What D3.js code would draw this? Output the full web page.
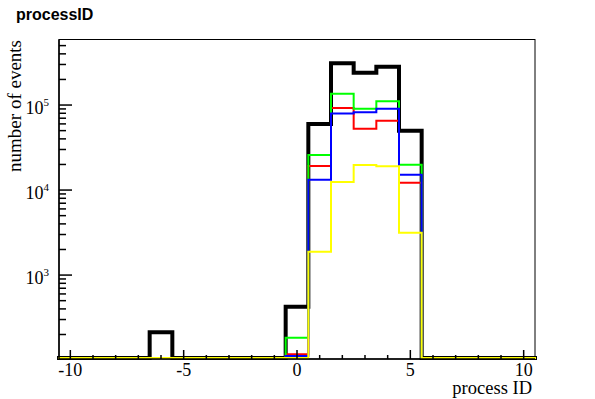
<!DOCTYPE html>
<html>
<head>
<meta charset="utf-8">
<script src="https://cdn.jsdelivr.net/npm/d3@7"></script>
<style>
  body { margin: 0; background: #fff; }
  svg { display: block; }
</style>
</head>
<body>
<div id="chart"></div>
<script>
// process ID bins (centered on integers, width 1)
var bins = d3.range(-10, 11);

// counts per bin, only non-zero bins listed
var blackCounts  = {"-6": 213, 0: 424, 1: 59700, 2: 310000, 3: 240000, 4: 282000, 5: 50000};
var redCounts    = {0: 117, 1: 19200, 2: 92000, 3: 52700, 4: 65300, 5: 12200};
var greenCounts  = {0: 183, 1: 25800, 2: 136000, 3: 90400, 4: 111000, 5: 19900};
var blueCounts   = {0: 112, 1: 13200, 2: 79700, 3: 82000, 4: 90400, 5: 15100};
var yellowCounts = {1: 1880, 2: 12400, 3: 19700, 4: 19100, 5: 3150};

var xTicks = [-10, -5, 0, 5, 10];
var yTicks = [1e3, 1e4, 1e5];

var svgWidth = 595;
var svgHeight = 399;

var frame = { left: 59, right: 535, top: 39.5, bottom: 359 };

var svg = d3.select("#chart")
  .append("svg")
  .attr("width", svgWidth)
  .attr("height", svgHeight);

var x = d3.scaleLinear()
  .domain([-10.5, 10.5])
  .range([frame.left, frame.right]);

var y = d3.scaleLog()
  .domain([103, 5.9e5])
  .range([frame.bottom, frame.top]);

// histogram outline as a step path, empty bins sit on the bottom
function histPath(counts) {
  var path = d3.path();
  var yOf = function(b) {
    var v = counts[b] || 0;
    return v > y.domain()[0] ? y(v) : frame.bottom - 1;
  };
  path.moveTo(x(-10.5), yOf(-10));
  bins.forEach(function(b, i) {
    path.lineTo(x(b + 0.5), yOf(b));
    if (i < bins.length - 1) path.lineTo(x(b + 0.5), yOf(bins[i + 1]));
  });
  return path.toString();
}

var series = [
  { counts: blackCounts,  color: "#000000", width: 4 },
  { counts: redCounts,    color: "#ff0000", width: 2 },
  { counts: greenCounts,  color: "#00ff00", width: 2 },
  { counts: blueCounts,   color: "#0000ff", width: 2 },
  { counts: yellowCounts, color: "#ffff00", width: 2 }
];

// frame
svg.append("rect")
  .attr("x", frame.left)
  .attr("y", frame.top)
  .attr("width", frame.right - frame.left)
  .attr("height", frame.bottom - frame.top)
  .attr("fill", "none")
  .attr("stroke", "#000")
  .attr("stroke-width", 1);

svg.append("g").selectAll("path")
  .data(series)
  .enter()
  .append("path")
  .attr("d", d => histPath(d.counts))
  .attr("fill", "none")
  .attr("stroke", d => d.color)
  .attr("stroke-width", d => d.width)
  .attr("stroke-linejoin", "miter")
  .attr("stroke-linecap", "square");

// x axis: ticks point up into the frame
var xAxisG = svg.append("g")
  .attr("transform", `translate(0, ${frame.bottom})`);

xAxisG.append("line")
  .attr("x1", frame.left).attr("x2", frame.right)
  .attr("stroke", "#000").attr("stroke-width", 1.5);

xAxisG.selectAll(".minor")
  .data(bins.filter(b => xTicks.indexOf(b) < 0))
  .enter()
  .append("line")
  .attr("x1", d => x(d)).attr("x2", d => x(d))
  .attr("y1", 0).attr("y2", -4)
  .attr("stroke", "#000").attr("stroke-width", 1.5);

xAxisG.selectAll(".major")
  .data(xTicks)
  .enter()
  .append("line")
  .attr("x1", d => x(d)).attr("x2", d => x(d))
  .attr("y1", 0).attr("y2", -9)
  .attr("stroke", "#000").attr("stroke-width", 1.5);

xAxisG.selectAll("text")
  .data(xTicks)
  .enter()
  .append("text")
  .attr("x", d => x(d))
  .attr("y", 17)
  .attr("text-anchor", "middle")
  .attr("font-family", "Liberation Serif, Times New Roman, serif")
  .attr("font-size", 18)
  .text(d => d);

svg.append("text")
  .attr("x", 532)
  .attr("y", 394)
  .attr("text-anchor", "end")
  .attr("font-family", "Liberation Serif, Times New Roman, serif")
  .attr("font-size", 18.5)
  .text("process ID");

// y axis: log ticks point right into the frame
var yAxisG = svg.append("g")
  .attr("transform", `translate(${frame.left}, 0)`);

yAxisG.append("line")
  .attr("y1", frame.top).attr("y2", frame.bottom)
  .attr("stroke", "#000").attr("stroke-width", 1.5);

var yMinor = y.ticks().filter(v => yTicks.indexOf(v) < 0);

yAxisG.selectAll(".minor")
  .data(yMinor)
  .enter()
  .append("line")
  .attr("y1", d => y(d)).attr("y2", d => y(d))
  .attr("x1", 0).attr("x2", 7)
  .attr("stroke", "#000").attr("stroke-width", 1.5);

yAxisG.selectAll(".major")
  .data(yTicks)
  .enter()
  .append("line")
  .attr("y1", d => y(d)).attr("y2", d => y(d))
  .attr("x1", 0).attr("x2", 13)
  .attr("stroke", "#000").attr("stroke-width", 1.5);

var yLabels = yAxisG.selectAll("text")
  .data(yTicks)
  .enter()
  .append("text")
  .attr("x", -10)
  .attr("y", d => y(d) + 9)
  .attr("text-anchor", "end")
  .attr("font-family", "Liberation Serif, Times New Roman, serif")
  .attr("font-size", 18);

yLabels.append("tspan").text("10");
yLabels.append("tspan")
  .attr("dy", -8)
  .attr("font-size", 11)
  .text(d => Math.round(Math.log10(d)));

svg.append("text")
  .attr("transform", "translate(21, 40) rotate(-90)")
  .attr("text-anchor", "end")
  .attr("font-family", "Liberation Serif, Times New Roman, serif")
  .attr("font-size", 19)
  .text("number of events");

// title
svg.append("text")
  .attr("x", 16)
  .attr("y", 20)
  .attr("font-family", "Liberation Sans, Arial, Helvetica, sans-serif")
  .attr("font-weight", "bold")
  .attr("font-size", 16)
  .text("processID");
</script>
</body>
</html>
